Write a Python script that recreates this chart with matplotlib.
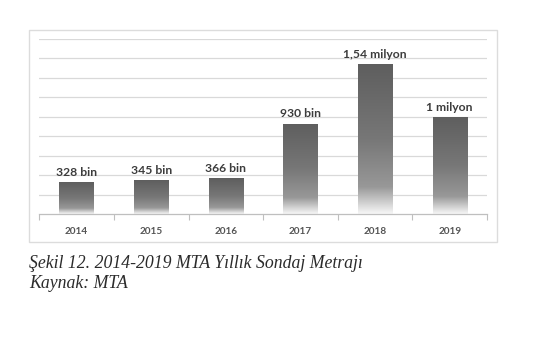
import numpy as np
import matplotlib
matplotlib.use("Agg")
import matplotlib.pyplot as plt
from matplotlib.colors import LinearSegmentedColormap
from matplotlib.patches import Rectangle

# Yıllık sondaj metrajı (bin metre)
yillar = ["2014", "2015", "2016", "2017", "2018", "2019"]
metraj = [328, 345, 366, 930, 1540, 1000]
etiketler = ["328 bin", "345 bin", "366 bin", "930 bin", "1,54 milyon", "1 milyon"]

fig = plt.figure(figsize=(5.34, 3.42), dpi=100)
fig.patch.set_facecolor("white")

# çerçeve
fig.patches.append(Rectangle((29 / 534, 1 - 242 / 342), 468 / 534, 212 / 342,
                             transform=fig.transFigure, fill=False,
                             edgecolor="#dcdcdc", linewidth=1.0))

ax = fig.add_axes([39.3 / 534, 1 - 214 / 342, (487 - 39.3) / 534, (214 - 39) / 342])

for s in ["top", "right", "left"]:
    ax.spines[s].set_visible(False)
ax.spines["bottom"].set_color("#bfbfbf")
ax.spines["bottom"].set_linewidth(0.9)

ax.set_yticks(np.arange(200, 1801, 200))
ax.set_yticklabels([])
ax.tick_params(axis="y", length=0)
ax.yaxis.grid(True, color="#d9d9d9", linewidth=0.9)
ax.set_axisbelow(True)

ax.set_xticks(range(len(yillar)))
ax.set_xticklabels(yillar, fontfamily="Lato", fontweight="bold", fontsize=7.2, color="#555555")
ax.set_xticks(np.arange(-0.5, len(yillar)), minor=True)
ax.tick_params(axis="x", which="major", length=0, pad=9)
ax.tick_params(axis="x", which="minor", length=4, color="#bfbfbf", width=0.8)

cmap = LinearSegmentedColormap.from_list(
    "bar", [(0, "#5e5e5e"), (0.5, "#777777"), (0.82, "#989898"), (1.0, "#f7f7f7")])
grad = np.linspace(0, 1, 256).reshape(-1, 1)

genislik = 0.46
bars = ax.bar(range(len(yillar)), metraj, width=genislik, color="none", edgecolor="none")
for b, deger, etiket in zip(bars, metraj, etiketler):
    x0 = b.get_x()
    im = ax.imshow(grad, cmap=cmap, aspect="auto", origin="upper",
                   extent=(x0, x0 + genislik, 0, deger), zorder=2)
    im.set_clip_path(b)
    ax.annotate(etiket, (b.get_x() + genislik / 2, deger), xytext=(0, 3),
                textcoords="offset points", ha="center", va="bottom",
                fontfamily="Lato", fontweight="bold", fontsize=8.7, color="#3c3c3c")

ax.set_xlim(-0.5, len(yillar) - 0.5)
ax.set_ylim(0, 1800)

fig.text(29 / 534, 1 - 263 / 342, "Şekil 12. 2014-2019 MTA Yıllık Sondaj Metrajı",
         fontfamily="Liberation Serif", fontstyle="italic", fontsize=12.8,
         color="#2b2b2b", va="center", ha="left")
fig.text(29 / 534, 1 - 284 / 342, "Kaynak: MTA",
         fontfamily="Liberation Serif", fontstyle="italic", fontsize=12.8,
         color="#2b2b2b", va="center", ha="left")

fig.savefig("out.png", dpi=100)
